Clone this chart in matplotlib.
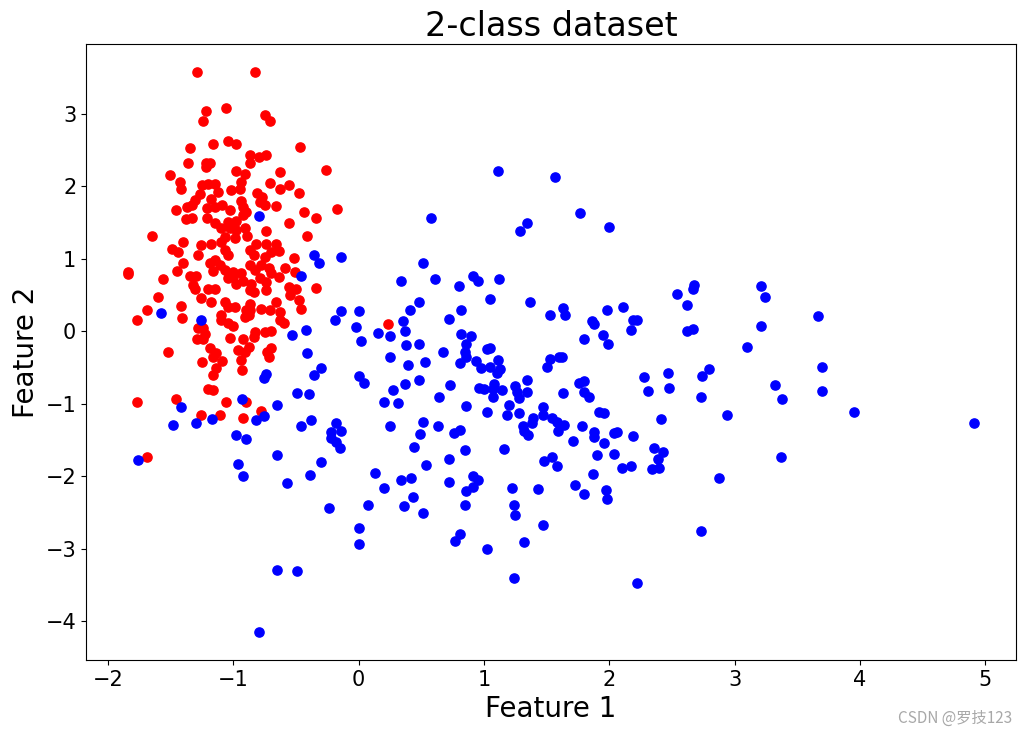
import matplotlib
matplotlib.use("Agg")
import matplotlib.pyplot as plt
import numpy as np

# class 0 (red) points
red_x = [-1.29, -0.83, -1.22, -1.06, -1.24, -0.75, -0.71, -1.04, -0.98, -1.16,
         -1.35, -0.47, -0.87, -0.80, -0.74, -0.87, -1.36, -1.22, -1.19, -1.22,
         -0.26, -1.51, -0.98, -0.91, -0.63, -1.43, -1.42, -0.94, -0.71, -0.56,
         -0.63, -1.25, -1.20, -1.15, -1.02, -0.95, -0.48, -1.27, -1.12, -0.81,
         -0.77, -1.31, -1.18, -0.94, -0.79, -0.75, -0.66, -1.37, -1.33, -1.21,
         -1.15, -1.09, -1.03, -0.92, -0.90, -1.46, -0.44, -0.17, -1.38, -1.33,
         -1.21, -1.15, -1.04, -0.98, -0.92, -0.34, -0.56, -1.65, -1.40, -1.10,
         -1.03, -0.98, -0.91, -0.89, -0.74, -0.41, -1.07, -0.99, -1.26, -1.18,
         -1.10, -0.82, -0.74, -0.66, -1.49, -1.44, -1.07, -1.28, -0.87, -0.64,
         -0.70, -0.75, -0.84, -1.04, -0.52, -1.84, -1.84, -1.40, -1.45, -1.19,
         -1.15, -1.11, -1.16, -1.07, -1.00, -1.35, -1.30, -1.32, -1.31, -1.04,
         -0.98, -0.94, -1.00, -0.92, -0.87, -0.83, -0.78, -0.72, -0.79, -0.74,
         -0.86, -0.70, -0.64, -0.59, -0.51, -1.56, -0.56, -0.50, -0.55, -0.34,
         -1.20, -1.15, -0.87, -0.84, -0.74, -1.60, -1.26, -1.18, -1.07, -1.04,
         -0.99, -0.87, -0.90, -0.78, -0.71, -0.66, -0.48, -0.46, -1.69, -1.42,
         -1.41, -1.77, -1.10, -1.10, -1.04, -1.00, -0.91, -0.88, -0.87, -0.63,
         -0.63, -0.60, -1.28, -1.24, -1.29, -1.24, -1.23, -1.03, -0.92, -0.83,
         -0.84, -0.75, -0.70, -1.52, -1.19, -1.14, -1.16, -1.09, -0.96, -0.88,
         -0.91, -0.70, -0.73, -0.72, -0.94, -1.25, -1.14, -1.16, -0.93, -1.20,
         -1.16, -1.77, -1.46, -1.06, -0.90, -1.26, -1.11, -0.92, -0.78, -1.69,
         0.23]
red_y = [3.58, 3.58, 3.04, 3.08, 2.90, 2.98, 2.91, 2.63, 2.58, 2.58,
         2.53, 2.55, 2.44, 2.40, 2.44, 2.32, 2.32, 2.32, 2.33, 2.27,
         2.23, 2.16, 2.22, 2.17, 2.20, 2.06, 1.97, 2.06, 2.05, 2.02,
         1.97, 2.02, 2.04, 2.04, 1.95, 1.96, 1.91, 1.90, 1.92, 1.91,
         1.86, 1.81, 1.83, 1.80, 1.79, 1.74, 1.73, 1.72, 1.74, 1.70,
         1.72, 1.75, 1.68, 1.72, 1.65, 1.67, 1.65, 1.69, 1.55, 1.56,
         1.56, 1.49, 1.51, 1.53, 1.60, 1.56, 1.50, 1.31, 1.24, 1.42,
         1.42, 1.40, 1.42, 1.31, 1.39, 1.31, 1.30, 1.29, 1.19, 1.20,
         1.23, 1.21, 1.20, 1.21, 1.13, 1.10, 1.12, 1.05, 1.12, 1.11,
         1.10, 1.03, 1.05, 1.05, 1.01, 0.82, 0.79, 0.94, 0.83, 0.94,
         0.98, 0.91, 0.83, 0.84, 0.82, 0.77, 0.77, 0.64, 0.58, 0.73,
         0.66, 0.80, 0.75, 0.70, 0.91, 0.84, 0.91, 0.87, 0.73, 0.68,
         0.66, 0.80, 0.75, 0.87, 0.82, 0.72, 0.61, 0.59, 0.50, 0.60,
         0.59, 0.59, 0.57, 0.54, 0.57, 0.47, 0.46, 0.40, 0.41, 0.34,
         0.34, 0.38, 0.29, 0.31, 0.30, 0.40, 0.43, 0.31, 0.30, 0.35,
         0.18, 0.15, 0.23, 0.15, 0.11, 0.07, 0.20, 0.22, 0.29, 0.27,
         0.16, 0.11, 0.05, 0.04, -0.10, -0.11, -0.03, -0.09, -0.10, -0.01,
         -0.08, -0.01, 0.00, -0.29, -0.23, -0.30, -0.35, -0.41, -0.26, -0.21,
         -0.29, -0.23, -0.29, -0.35, -0.40, -0.42, -0.51, -0.60, -0.54, -0.79,
         -0.81, -0.98, -0.94, -0.97, -0.97, -1.16, -1.15, -1.19, -1.10, -1.74,
         0.10]

# class 1 (blue) points
blue_x = [-0.80, -1.58, -1.26, -0.36, -0.32, -0.14, -0.46, -0.14, -0.19, -0.02,
          -0.42, -0.53, -0.41, -0.30, -0.36, -0.74, -0.76, -0.49, -0.40, -0.93,
          -0.65, -1.42, -1.48, -1.30, -1.17, -0.82, -0.76, -0.46, -0.38, -0.18,
          -0.14, -0.22, -0.98, -0.90, -0.22, -0.18, -0.15, -1.76, -0.65, -0.96,
          -0.92, -0.30, -0.39, -0.57, -0.24, -0.65, -0.49, -0.80,
          1.11, 1.57, 0.58, 1.34, 1.29, 0.51, 0.34, 0.61, 0.91, 0.95,
          1.12, 0.80, 1.05, 1.37, 0.48, 0.41, 0.00, 0.82, 1.53, 0.72,
          0.35, 0.15, 0.25, 0.37, 0.02, 0.82, 0.90, 0.86, 0.85, 0.86,
          0.38, 0.48, 1.02, 1.05, 0.67, 0.25, 0.39, 0.53, 0.81, 0.94,
          0.98, 1.11, 1.13, 1.10, 1.05, 1.53, 1.50, 1.60, 0.00, 0.04,
          0.48, 0.37, 0.27, 0.73, 0.64, 0.96, 1.00, 1.08, 1.07, 1.14,
          1.07, 1.25, 1.26, 1.34, 1.34, 0.20, 0.31,
          1.28, 0.86, 1.02, 1.20, 1.18, 1.28, 1.47, 1.47, 1.54, 1.58,
          1.39, 1.38, 1.31, 1.32, 1.35, 1.59, 0.25, 0.51, 0.49, 0.63,
          0.76, 0.81, 0.44, 0.85, 1.16, 0.72, 0.54, 1.48, 1.54, 1.58,
          0.13, 0.34, 0.42, 0.20, 0.72, 0.91, 0.95, 0.91, 0.86, 1.22,
          1.43, 0.07, 0.43, 0.36, 0.51, 0.85, 1.24, 1.25, 1.47, 0.00,
          0.00, 0.81, 0.77, 1.02, 1.32, 1.24,
          1.77, 2.00, 2.54, 2.62, 2.68, 2.67, 3.21, 3.24, 3.21, 3.10,
          1.63, 1.65, 1.98, 2.11, 1.86, 1.88, 2.19, 2.22, 2.17, 1.95,
          1.99, 1.80, 2.62, 2.67, 1.62, 2.28, 2.47, 2.48, 2.74, 2.80,
          1.76, 1.80, 1.63, 1.80, 1.84, 2.31, 2.73, 3.32,
          2.94, 1.92, 1.96, 2.41, 1.64, 1.78, 1.88, 1.88, 1.71, 1.96,
          2.04, 2.06, 2.19, 2.36, 2.43, 2.39, 2.34, 2.40, 1.90, 2.04,
          2.10, 2.17, 1.87, 1.73, 1.80, 1.97, 1.98, 2.88, 2.73, 2.22,
          3.67, 3.70, 3.38, 3.70, 3.95, 4.91, 3.37]
blue_y = [1.59, 0.25, 0.16, 1.05, 0.94, 1.03, 0.77, 0.28, 0.15, 0.06,
          0.02, -0.05, -0.30, -0.50, -0.60, -0.59, -0.65, -0.85, -0.87, -0.93,
          -1.01, -1.05, -1.29, -1.27, -1.21, -1.22, -1.17, -1.31, -1.23, -1.27,
          -1.38, -1.39, -1.43, -1.48, -1.47, -1.53, -1.61, -1.78, -1.71, -1.83,
          -1.99, -1.81, -1.98, -2.09, -2.44, -3.29, -3.31, -4.15,
          2.21, 2.13, 1.56, 1.50, 1.39, 0.95, 0.70, 0.72, 0.76, 0.70,
          0.72, 0.62, 0.45, 0.40, 0.41, 0.29, 0.28, 0.29, 0.23, 0.17,
          0.14, -0.02, -0.07, 0.00, -0.14, -0.03, -0.06, -0.18, -0.28, -0.35,
          -0.19, -0.18, -0.25, -0.23, -0.28, -0.35, -0.46, -0.43, -0.44, -0.41,
          -0.50, -0.39, -0.52, -0.58, -0.49, -0.38, -0.49, -0.35, -0.62, -0.71,
          -0.67, -0.72, -0.81, -0.74, -0.90, -0.78, -0.80, -0.73, -0.80, -0.81,
          -0.90, -0.76, -0.84, -0.67, -0.84, -0.97, -0.99,
          -0.92, -1.03, -1.11, -1.02, -1.15, -1.13, -1.04, -1.16, -1.20, -1.25,
          -1.19, -1.26, -1.31, -1.37, -1.43, -1.38, -1.31, -1.25, -1.42, -1.31,
          -1.40, -1.36, -1.60, -1.64, -1.63, -1.76, -1.85, -1.79, -1.73, -1.86,
          -1.95, -2.05, -2.03, -2.16, -2.08, -1.99, -2.05, -2.15, -2.21, -2.16,
          -2.18, -2.40, -2.29, -2.41, -2.51, -2.40, -2.40, -2.54, -2.68, -2.71,
          -2.94, -2.80, -2.89, -3.01, -2.91, -3.40,
          1.63, 1.44, 0.52, 0.37, 0.64, 0.58, 0.62, 0.47, 0.08, -0.22,
          0.32, 0.22, 0.29, 0.33, 0.14, 0.10, 0.16, 0.16, 0.02, -0.05,
          -0.18, -0.11, 0.00, 0.03, -0.35, -0.63, -0.58, -0.78, -0.62, -0.52,
          -0.71, -0.68, -0.85, -0.84, -0.90, -0.83, -0.91, -0.74,
          -1.16, -1.11, -1.13, -1.21, -1.29, -1.31, -1.39, -1.46, -1.51, -1.54,
          -1.40, -1.39, -1.45, -1.61, -1.67, -1.76, -1.90, -1.89, -1.71, -1.70,
          -1.88, -1.86, -1.97, -2.12, -2.25, -2.19, -2.32, -2.03, -2.75, -3.48,
          0.21, -0.49, -0.94, -0.82, -1.11, -1.26, -1.74]

title = "2-class dataset"
xlabel = "Feature 1"
ylabel = "Feature 2"
watermark = "CSDN @罗技123"

fig = plt.figure(figsize=(10.26, 7.36), dpi=100)
ax = fig.add_axes([0.0838, 0.1033, 0.9065, 0.8369])
ax.scatter(red_x, red_y, c="red", s=44)
ax.scatter(blue_x, blue_y, c="blue", s=44)
ax.set_title(title, fontsize=24)
ax.set_xlabel(xlabel, fontsize=20)
ax.set_ylabel(ylabel, fontsize=20)
ax.tick_params(labelsize=15)
fig.text(0.986, 0.024, watermark, ha="right", va="center", fontsize=11,
         color="#a8a8a8", family=["Noto Sans CJK SC", "DejaVu Sans"])
fig.savefig("out.png", dpi=100)
